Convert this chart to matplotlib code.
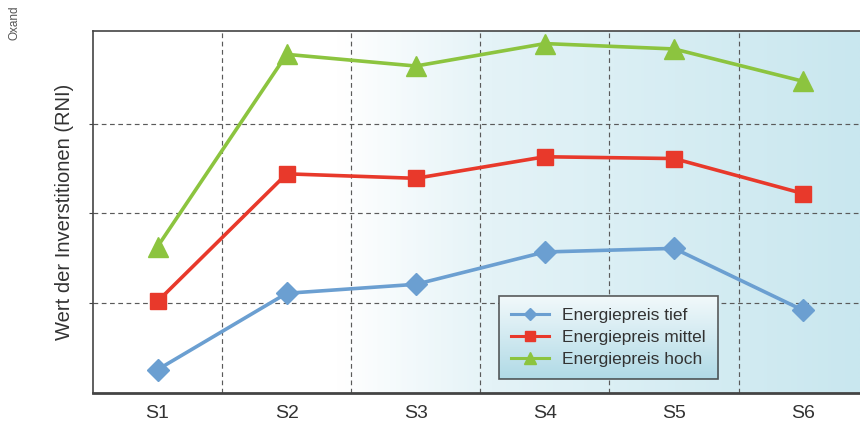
import numpy as np
import matplotlib
matplotlib.use("Agg")
import matplotlib.pyplot as plt
from matplotlib.colors import LinearSegmentedColormap

plt.rcParams['font.family'] = ['Liberation Sans', 'DejaVu Sans']

categories = ["S1", "S2", "S3", "S4", "S5", "S6"]
tief = [0.26, 1.11, 1.21, 1.57, 1.61, 0.92]
mittel = [1.02, 2.44, 2.39, 2.63, 2.61, 2.22]
hoch = [1.63, 3.77, 3.64, 3.89, 3.83, 3.47]
series_labels = ["Energiepreis tief", "Energiepreis mittel", "Energiepreis hoch"]
ylabel = "Wert der Inverstitionen (RNI)"
source = "Oxand"

fig = plt.figure(figsize=(8.6, 4.25), dpi=100)
ax = fig.add_axes([93/860, 32/425, 1 - 93/860, (393-31)/425])

x = np.arange(len(categories))
ax.set_xlim(-0.5, 5.44)
ax.set_ylim(0, 4.03)

# background gradient (white on left -> light blue on right)
grad_cmap = LinearSegmentedColormap.from_list(
    "bg", [(0.0, "#ffffff"), (0.32, "#ffffff"), (0.52, "#e4f3f7"), (1.0, "#c9e7ef")])
gx = np.linspace(0, 1, 256).reshape(1, -1)
ax.imshow(gx, cmap=grad_cmap, aspect="auto", extent=[0, 1, 0, 1],
          transform=ax.transAxes, zorder=0)

# grid
for xv in np.arange(0.5, 5.0, 1.0):
    ax.axvline(xv, color="#5a5a5a", lw=0.85, ls=(0, (4, 3)), zorder=1)
for yv in [1, 2, 3]:
    ax.axhline(yv, color="#5a5a5a", lw=0.85, ls=(0, (4, 3)), zorder=1)

ax.plot(x, tief, color="#6b9fd1", lw=2.6, marker="D", ms=11,
        label=series_labels[0], zorder=3)
ax.plot(x, mittel, color="#e8392b", lw=2.6, marker="s", ms=12,
        label=series_labels[1], zorder=3)
ax.plot(x, hoch, color="#8cc43f", lw=2.6, marker="^", ms=14,
        label=series_labels[2], zorder=3)

ax.set_xticks(x)
ax.set_xticklabels(categories, fontsize=14, color="#333333")
ax.tick_params(axis="x", length=0, pad=9)
ax.set_yticks([1, 2, 3])
ax.set_yticklabels([])
ax.tick_params(axis="y", length=3, direction="out", color="#444444")

for s in ["left", "top"]:
    ax.spines[s].set_color("#444444")
    ax.spines[s].set_linewidth(1.2)
ax.spines["bottom"].set_color("#444444")
ax.spines["bottom"].set_linewidth(2.0)
ax.spines["right"].set_visible(False)

ax.set_ylabel(ylabel, fontsize=14.5, color="#333333", labelpad=7)

leg = ax.legend(loc="upper left", bbox_to_anchor=((499-93)/767, (393-296)/362),
                fontsize=12.5, frameon=True, fancybox=False, handlelength=2.2,
                borderpad=0.7, labelspacing=0.38, handletextpad=0.75,
                borderaxespad=0.0, markerscale=0.6)
frame = leg.get_frame()
frame.set_edgecolor("#333333")
frame.set_linewidth(1.2)
frame.set_facecolor("none")
leg.set_zorder(6)
for t in leg.get_texts():
    t.set_color("#333333")
for h in leg.get_lines():
    h.set_linewidth(2.2)

# legend gradient (vertical, light at top -> blue at bottom)
fig.canvas.draw()
bb = frame.get_window_extent().transformed(ax.transAxes.inverted())
leg_cmap = LinearSegmentedColormap.from_list("lg", ["#b0dae6", "#f2f9fb"])
gy = np.linspace(0, 1, 128).reshape(-1, 1)
ax.imshow(gy, cmap=leg_cmap, aspect="auto", origin="lower",
          extent=[bb.x0, bb.x1, bb.y0, bb.y1], transform=ax.transAxes, zorder=5)
ax.set_xlim(-0.5, 5.44)
ax.set_ylim(0, 4.03)

fig.text(14/860, 1 - 23/425, source, rotation=90, fontsize=8.5,
         color="#555555", ha="center", va="center")

fig.savefig("out.png", dpi=100)
